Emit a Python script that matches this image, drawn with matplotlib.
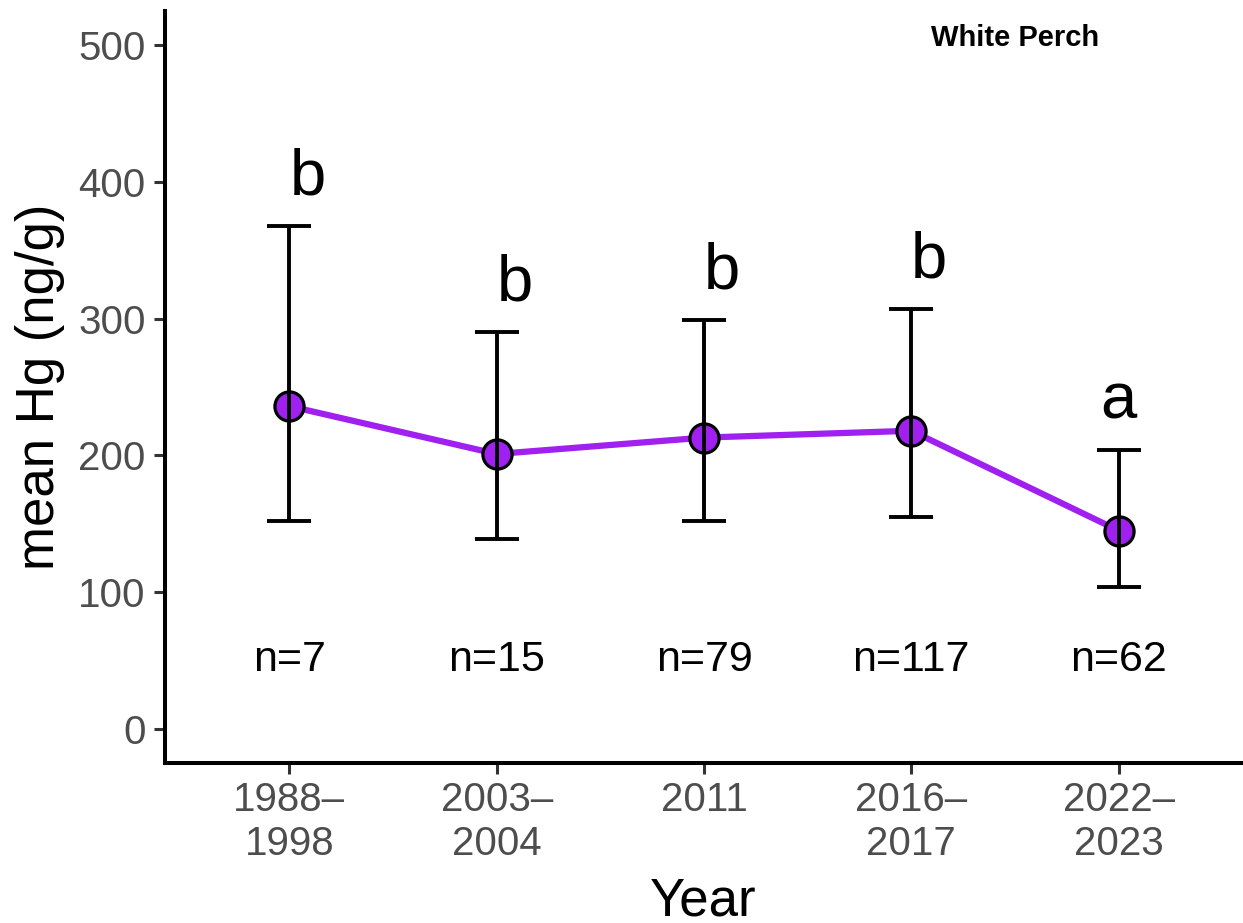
import matplotlib
matplotlib.use("Agg")
import matplotlib.pyplot as plt

plt.rcParams['font.family'] = ['Liberation Sans', 'DejaVu Sans']

# data
periods = ["1988–\n1998", "2003–\n2004", "2011", "2016–\n2017", "2022–\n2023"]
mean_hg = [236, 201, 213, 218, 145]
upper = [368, 290, 299, 307, 204]
lower = [152, 139, 152, 155, 104]
letters = ["b", "b", "b", "b", "a"]
n_fish = [7, 15, 79, 117, 62]

x = list(range(len(periods)))
err_low = [m - l for m, l in zip(mean_hg, lower)]
err_high = [u - m for m, u in zip(mean_hg, upper)]

fig = plt.figure(figsize=(12.43, 9.23), dpi=100)
ax = fig.add_axes([165 / 1243, (923 - 763) / 923, 1078 / 1243, 752 / 923])

purple = '#A020F0'
ax.plot(x, mean_hg, color=purple, linewidth=4.5, zorder=1)
ax.plot(x, mean_hg, 'o', markersize=21, markerfacecolor=purple,
        markeredgecolor='black', markeredgewidth=2.3, zorder=2)
ax.errorbar(x, mean_hg, yerr=[err_low, err_high], fmt='none', ecolor='black',
            elinewidth=2.8, capsize=15.5, capthick=2.8, zorder=3)

# significance letters and sample sizes
for i in x:
    # the "b" labels sit just right of the bar in the original, "a" is centred
    ha = 'center' if letters[i] == 'a' else 'left'
    ax.text(i, upper[i] + 23, letters[i], ha=ha, va='baseline', fontsize=47)
    ax.text(i, 50, "n=" + str(n_fish[i]), ha='center', va='center', fontsize=31)

ax.text(3.5, 505, "White Perch", ha='center', va='center', fontsize=21, fontweight='bold')

ax.set_xlim(-0.6, 4.6)
ax.set_ylim(-25, 525)
ax.set_xticks(x)
ax.set_xticklabels(periods)
ax.set_yticks([0, 100, 200, 300, 400, 500])

ax.spines['top'].set_visible(False)
ax.spines['right'].set_visible(False)
for s in ['left', 'bottom']:
    ax.spines[s].set_linewidth(2.9)
    ax.spines[s].set_color('black')

ax.tick_params(axis='both', length=8, width=2.2, color='#333333',
               labelsize=29, labelcolor='#4D4D4D')
ax.tick_params(axis='y', pad=6)
ax.tick_params(axis='x', pad=5)

fig.text(40 / 1243, 0.5 + (923 / 2 - 387) / 923, "mean Hg (ng/g)", rotation=90,
         ha='center', va='center', fontsize=38)
fig.text(703 / 1243, (923 - 916) / 923, "Year", ha='center', va='baseline', fontsize=38)

fig.savefig("out.png", dpi=100)
